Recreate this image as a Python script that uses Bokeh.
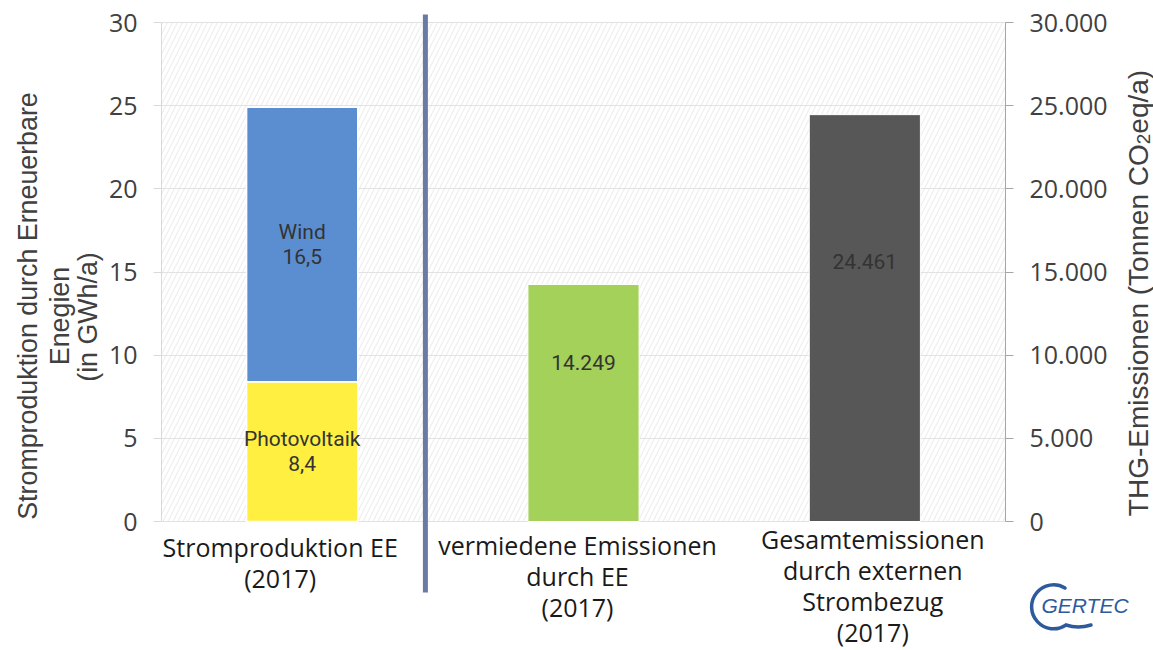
import math
from bokeh.plotting import figure
from bokeh.models import FactorRange, Range1d, LinearAxis, FixedTicker, ColumnDataSource, GridBox, Div
from bokeh.core.properties import value
from bokeh.embed import file_html
from bokeh.resources import INLINE

# ---------------- data ----------------
categories = ["Stromproduktion EE", "vermiedene Emissionen", "Gesamtemissionen"]
category_labels = [
    "Stromproduktion EE\n(2017)",
    "vermiedene Emissionen\ndurch EE\n(2017)",
    "Gesamtemissionen\ndurch externen\nStrombezug\n(2017)",
]
pv_gwh = [8.4]
wind_gwh = [16.5]
emission_cats = ["vermiedene Emissionen", "Gesamtemissionen"]
emission_t = [14249, 24461]
left_ticks = [0, 5, 10, 15, 20, 25, 30]
left_tick_labels = ["0", "5", "10", "15", "20", "25", "30"]
right_ticks = [0, 5000, 10000, 15000, 20000, 25000, 30000]
right_tick_labels = ["0", "5.000", "10.000", "15.000", "20.000", "25.000", "30.000"]
left_title_lines = ["Stromproduktion durch Erneuerbare", "Enegien", "(in GWh/a)"]
right_title_parts = ["THG-Emissionen (Tonnen CO", "2", "eq/a)"]
logo_text = "GERTEC"

# ---------------- styling ----------------
FONT = "Open Sans"
BAR_FONT = "Roboto"
PV_COLOR = "#FFEF41"
WIND_COLOR = "#5B8ED0"
EM_COLORS = ["#A3D15A", "#575757"]
LOGO_COLOR = "#2e5a9c"
TITLE_COLOR = "#404040"
W, H = 1153, 648
FRAME_L, FRAME_R, FRAME_T = 161, 1005, 12
Y0_PX, Y30_PX = 521, 22
PX_PER_UNIT = (Y0_PX - Y30_PX) / 30.0
Y_TOP = 30 + (Y30_PX - FRAME_T) / PX_PER_UNIT
Y_BOTTOM = -(H - Y0_PX) / PX_PER_UNIT
SCALE = 1000.0

p = figure(
    width=W, height=H,
    x_range=FactorRange(*categories, range_padding=0),
    y_range=Range1d(Y_BOTTOM, Y_TOP),
    output_backend="svg", toolbar_location=None,
    x_axis_location=None,
    min_border_left=FRAME_L, min_border_right=W - FRAME_R,
    min_border_top=FRAME_T, min_border_bottom=0,
)
p.outline_line_color = None
p.background_fill_color = "white"

# hatched plot area
p.quad(left=[0], right=[3], bottom=[0], top=[30], fill_color="white", line_color=None,
       hatch_pattern="/", hatch_color="#eeeeee", hatch_scale=10, hatch_weight=1.2,
       level="image")

# grid
p.ygrid.ticker = FixedTicker(ticks=left_ticks)
p.ygrid.bounds = (0, 30)
p.ygrid.grid_line_color = "#e2e2e2"
p.ygrid.grid_line_width = 1
p.xgrid.visible = False

# left axis
ya = p.yaxis[0]
ya.bounds = (0, 30)
ya.ticker = FixedTicker(ticks=left_ticks)
ya.major_label_overrides = dict(zip(left_ticks, left_tick_labels))
ya.axis_line_color = "#d9d9d9"
ya.major_tick_line_color = "#d9d9d9"
ya.major_tick_out = 8
ya.major_tick_in = 0
ya.minor_tick_line_color = None
ya.major_label_standoff = 16
ya.major_label_text_font = FONT
ya.major_label_text_font_size = "25px"
ya.major_label_text_color = "#404040"

# right axis
p.extra_y_ranges = {"em": Range1d(Y_BOTTOM * SCALE, Y_TOP * SCALE)}
ra = LinearAxis(y_range_name="em", bounds=(0, 30000), ticker=FixedTicker(ticks=right_ticks))
ra.major_label_overrides = dict(zip(right_ticks, right_tick_labels))
ra.axis_line_color = "#a6a6a6"
ra.major_tick_line_color = "#a6a6a6"
ra.major_tick_out = 8
ra.major_tick_in = 0
ra.minor_tick_line_color = None
ra.major_label_standoff = 16
ra.major_label_text_font = FONT
ra.major_label_text_font_size = "25px"
ra.major_label_text_color = "#404040"
p.add_layout(ra, "right")

# bars
BAR_W = 0.395
p.vbar(x=[categories[0]], bottom=0, top=pv_gwh, width=BAR_W, fill_color=PV_COLOR,
       line_color="white", line_width=1.5)
p.vbar(x=[categories[0]], bottom=pv_gwh, top=[pv_gwh[0] + wind_gwh[0]], width=BAR_W,
       fill_color=WIND_COLOR, line_color="white", line_width=1.5)
p.vbar(x=emission_cats, top=emission_t, width=BAR_W, fill_color=EM_COLORS,
       line_color="white", line_width=1.0, y_range_name="em")

# bar labels
fmt1 = lambda v: f"{v:.1f}".replace(".", ",")
p.text(x=[categories[0], categories[0]],
       y=[pv_gwh[0] / 2, pv_gwh[0] + wind_gwh[0] / 2],
       text=[f"Photovoltaik\n{fmt1(pv_gwh[0])}", f"Wind\n{fmt1(wind_gwh[0])}"],
       text_align="center", text_baseline="middle", text_font=value(BAR_FONT),
       text_font_size="21px", text_color="#333333", text_line_height=1.02)
label_frac = [0.67, 0.64]
p.text(x=emission_cats, y=[v * f for v, f in zip(emission_t, label_frac)],
       text=[f"{v:,}".replace(",", ".") for v in emission_t],
       text_align="center", text_baseline="middle", text_font=value(BAR_FONT),
       text_font_size="21px", text_color="#333333", y_range_name="em")

# category labels (below the zero line)
cat_src = ColumnDataSource(dict(x=categories, y=[-0.38] * 3, text=category_labels,
                                dx=[-22, -6, 8], dy=[2, 0, -6]))
p.text(x="x", y="y", text="text", x_offset="dx", y_offset="dy", source=cat_src,
       text_align="center", text_baseline="top", text_font=value(FONT),
       text_font_size="25px", text_color="#1a1a1a", text_line_height=0.91)

# divider line
p.segment(x0=[0.938], x1=[0.938], y0=[(Y0_PX - 14) / PX_PER_UNIT], y1=[(Y0_PX - 592) / PX_PER_UNIT],
          line_color="#6a7aa3", line_width=5)

# ---------------- axis titles and logo as a transparent SVG overlay ----------------
def vtext(x, y, inner, size):
    return (f'<text transform="translate({x},{y}) rotate(-90)" text-anchor="middle" '
            f'dominant-baseline="central" font-family="{FONT}" font-size="{size}" '
            f'fill="{TITLE_COLOR}">{inner}</text>')

left_pos = [(23, 301), (55, 311), (83, 312)]
overlay = "".join(vtext(x, y, t, 26.8) for (x, y), t in zip(left_pos, left_title_lines))
rt = (f'{right_title_parts[0]}<tspan font-size="19" dy="5">{right_title_parts[1]}</tspan>'
      f'<tspan dy="-5">{right_title_parts[2]}</tspan>')
overlay += vtext(1133, 288, rt, 28)
overlay += (
    f'<path d="M 1060 583 A 22 22 0 1 0 1061 620 Q 1073 624 1086 620" fill="none" '
    f'stroke="{LOGO_COLOR}" stroke-width="3.5" stroke-linecap="round"/>'
    f'<text x="1080" y="608" text-anchor="middle" font-family="Liberation Sans" '
    f'font-style="italic" font-size="21" fill="{LOGO_COLOR}">{logo_text}</text>'
)
overlay_html = (
    f'<div style="position:relative;width:{W}px;height:{H}px;pointer-events:none;">'
    f'<svg width="{W}" height="{H}" style="position:absolute;left:0;top:0;">{overlay}</svg></div>'
)
over = Div(text=overlay_html, width=W, height=H)

layout = GridBox(children=[(p, 0, 0), (over, 0, 0)])
open("out.html", "w").write(file_html(layout, INLINE))
